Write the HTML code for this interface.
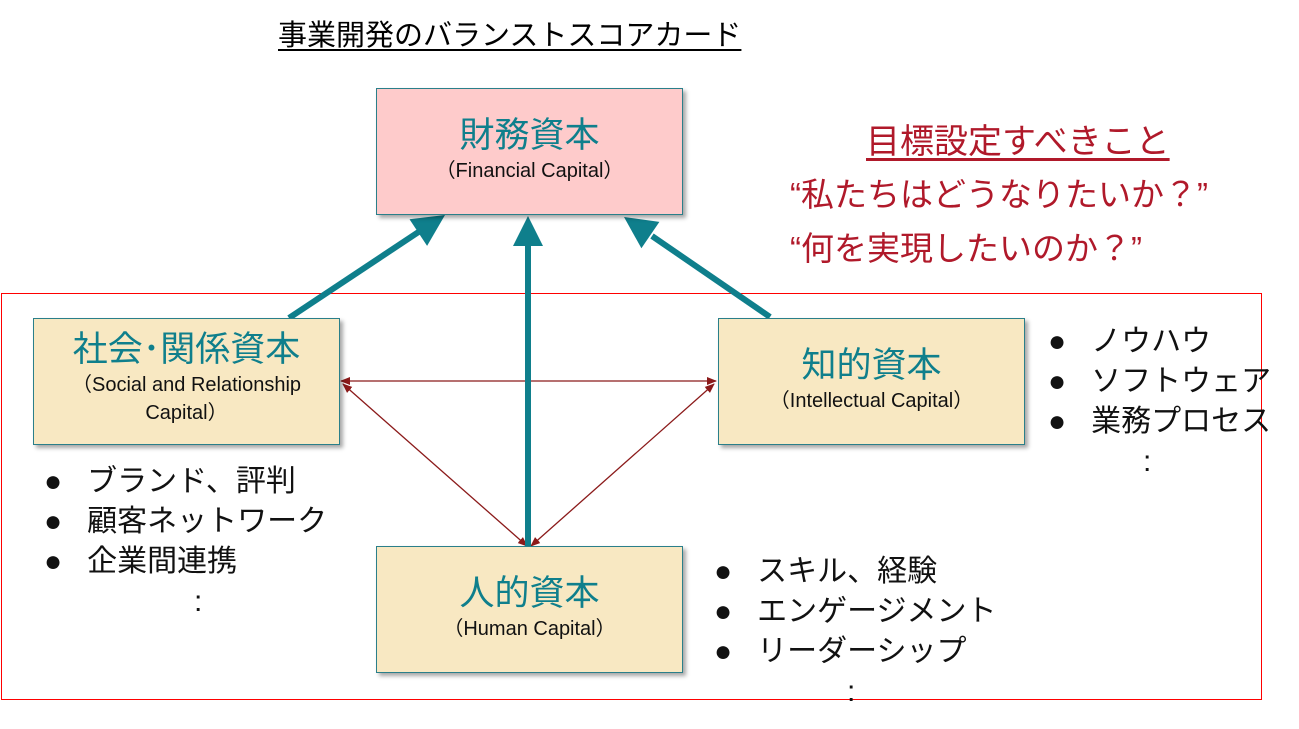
<!DOCTYPE html>
<html><head><meta charset="utf-8"><style>
body{margin:0;width:1299px;height:729px;background:#fff;overflow:hidden;position:relative;font-family:"Liberation Sans","Noto Sans CJK JP",sans-serif}
.t{position:absolute;white-space:nowrap}
.box{position:absolute;border:1.5px solid #2a7f8a;box-shadow:3px 3px 4px rgba(0,0,0,0.35);text-align:center;color:#111;box-sizing:border-box}
.box .h{color:#0f7f8c;font-size:35px;line-height:42px}
.box .s{font-size:20px;line-height:28px}
.list{position:absolute;font-size:30px;line-height:40px;color:#111}
</style></head><body>
<div class="t" style="left:278px;top:12px;font-size:29px;text-decoration:underline;text-underline-offset:4px">事業開発のバランストスコアカード</div>
<div class="t" style="left:866px;top:114px;font-size:34px;color:#b0192a;text-decoration:underline;text-underline-offset:5px">目標設定すべきこと</div>
<div class="t" style="left:790px;top:168px;font-size:33px;color:#b0192a">“私たちはどうなりたいか？”</div>
<div class="t" style="left:790px;top:222px;font-size:33px;color:#b0192a">“何を実現したいのか？”</div>
<div style="position:absolute;left:1px;top:293px;width:1259px;height:405px;border:1px solid #ff0000"></div>
<svg width="1299" height="729" style="position:absolute;left:0;top:0">
<defs>
<marker id="b" markerWidth="10" markerHeight="10" refX="9" refY="5" orient="auto" markerUnits="userSpaceOnUse"><path d="M0,1 L10,5 L0,9Z" fill="#8b1a1a"/></marker>
<marker id="bs" markerWidth="10" markerHeight="10" refX="1" refY="5" orient="auto" markerUnits="userSpaceOnUse"><path d="M10,1 L0,5 L10,9Z" fill="#8b1a1a"/></marker>
</defs>
<g stroke="#8b1a1a" stroke-width="1.3" fill="none">
<line x1="341" y1="381" x2="716" y2="381" marker-start="url(#bs)" marker-end="url(#b)"/>
<line x1="343" y1="384" x2="527" y2="546" marker-start="url(#bs)" marker-end="url(#b)"/>
<line x1="714" y1="384" x2="531" y2="546" marker-start="url(#bs)" marker-end="url(#b)"/>
</g>
<g stroke="#0f7f8c" stroke-width="6" fill="#0f7f8c">
<line x1="289" y1="318" x2="420" y2="231"/>
<line x1="528" y1="546" x2="528" y2="245"/>
<line x1="770" y1="317" x2="652" y2="236"/>
</g>
<g fill="#0f7f8c">
<path d="M445,215 L409.5,219.3 L427.1,245.9Z"/>
<path d="M528,216 L513,246 L543,246Z"/>
<path d="M624,217 L659.4,221.9 L641.4,248.3Z"/>
</g>
</svg>
<div class="box" style="left:376px;top:88px;width:307px;height:127px;background:#fecbcb;padding-top:26px"><div class="h">財務資本</div><div class="s">（Financial Capital）</div></div>
<div class="box" style="left:33px;top:318px;width:307px;height:127px;background:#f8e8c2;padding-top:10px"><div class="h">社会･関係資本</div><div class="s">（Social and Relationship<br>Capital）</div></div>
<div class="box" style="left:718px;top:318px;width:307px;height:127px;background:#f8e8c2;padding-top:26px"><div class="h">知的資本</div><div class="s">（Intellectual Capital）</div></div>
<div class="box" style="left:376px;top:546px;width:307px;height:127px;background:#f8e8c2;padding-top:26px"><div class="h">人的資本</div><div class="s">（Human Capital）</div></div>
<div class="list" style="left:44px;top:462px">●&nbsp;&nbsp;&nbsp;ブランド、評判<br>●&nbsp;&nbsp;&nbsp;顧客ネットワーク<br>●&nbsp;&nbsp;&nbsp;企業間連携<br><span style="padding-left:150px">:</span></div>
<div class="list" style="left:1048px;top:322px">●&nbsp;&nbsp;&nbsp;ノウハウ<br>●&nbsp;&nbsp;&nbsp;ソフトウェア<br>●&nbsp;&nbsp;&nbsp;業務プロセス<br><span style="padding-left:95px">:</span></div>
<div class="list" style="left:714px;top:552px">●&nbsp;&nbsp;&nbsp;スキル、経験<br>●&nbsp;&nbsp;&nbsp;エンゲージメント<br>●&nbsp;&nbsp;&nbsp;リーダーシップ<br><span style="padding-left:133px">:</span></div>
</body></html>
